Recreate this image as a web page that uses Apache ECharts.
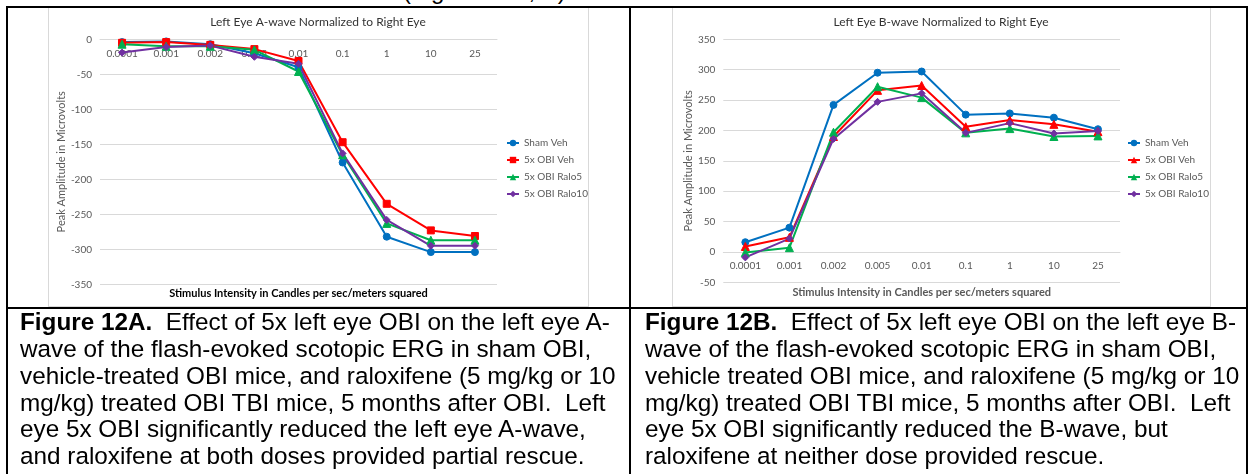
<!DOCTYPE html>
<html>
<head>
<meta charset="utf-8">
<script src="https://cdn.jsdelivr.net/npm/echarts@6/dist/echarts.min.js"></script>
<style>
  html, body { margin:0; padding:0; background:#fff; }
  #page { position:relative; width:1249px; height:474px; overflow:hidden; background:#fff; }
  .box { position:absolute; border:1px solid #d9d9d9; background:#fff; box-sizing:border-box; }
  .ln { position:absolute; background:#000; }
  #chart { position:absolute; left:0; top:0; width:1249px; height:474px; }
  .cap { position:absolute; font-family:"Liberation Sans", Arial, sans-serif; font-size:24.3px; line-height:26.8px; color:#000; white-space:nowrap; }
  .cut { position:absolute; font-family:"Liberation Sans", Arial, sans-serif; font-size:24px; line-height:24px; white-space:nowrap; top:-21.5px; }
</style>
</head>
<body>
<div id="page">
  <div class="cut" style="left:403px;">(Figure 12A, B)</div>
  <div class="box" style="left:48px; top:7px; width:541px; height:300px;"></div>
  <div class="box" style="left:672px; top:7px; width:539px; height:300px;"></div>
  <div id="chart"></div>
  <div class="ln" style="left:6px; top:6px; width:1242px; height:2px;"></div>
  <div class="ln" style="left:6px; top:6px; width:2px; height:470px;"></div>
  <div class="ln" style="left:629px; top:6px; width:2px; height:470px;"></div>
  <div class="ln" style="left:1246px; top:6px; width:2px; height:470px;"></div>
  <div class="ln" style="left:6px; top:307px; width:1242px; height:2px;"></div>
  <div class="cap" style="left:20px; top:309.3px;"><b>Figure 12A.</b>&nbsp; Effect of 5x left eye OBI on the left eye A-<br>wave of the flash-evoked scotopic ERG in sham OBI,<br>vehicle-treated OBI mice, and raloxifene (5 mg/kg or 10<br>mg/kg) treated OBI TBI mice, 5 months after OBI.&nbsp; Left<br>eye 5x OBI significantly reduced the left eye A-wave,<br>and raloxifene at both doses provided partial rescue.</div>
  <div class="cap" style="left:645px; top:309.3px;"><b>Figure 12B.</b>&nbsp; Effect of 5x left eye OBI on the left eye B-<br>wave of the flash-evoked scotopic ERG in sham OBI,<br>vehicle treated OBI mice, and raloxifene (5 mg/kg or 10<br>mg/kg) treated OBI TBI mice, 5 months after OBI.&nbsp; Left<br>eye 5x OBI significantly reduced the B-wave, but<br>raloxifene at neither dose provided rescue.</div>
</div>
<script>
// ---- data ----
const categories = ['0.0001','0.001','0.002','0.005','0.01','0.1','1','10','25'];
const seriesNames = ['Sham Veh','5x OBI Veh','5x OBI Ralo5','5x OBI Ralo10'];
// Chart A: Left Eye A-wave
const aShamVeh  = [-4, -3, -7, -20, -40, -176, -282, -304, -304];
const aObiVeh   = [-5, -4, -8, -14, -31, -147, -235, -273, -281];
const aObiRalo5 = [-7, -10, -10, -15, -46, -165, -263, -287, -287];
const aObiRalo10= [-19, -11, -9, -25, -35, -163, -258, -295, -295];
const aYMin = -350, aYMax = 0;
// Chart B: Left Eye B-wave
const bShamVeh  = [16, 40, 242, 295, 297, 226, 228, 221, 202];
const bObiVeh   = [9, 24, 190, 266, 274, 206, 217, 210, 198];
const bObiRalo5 = [-1, 7, 197, 272, 254, 196, 203, 190, 191];
const bObiRalo10= [-9, 22, 186, 247, 261, 196, 212, 195, 199];
const bYMin = -50, bYMax = 350;
const titleA = 'Left Eye A-wave Normalized to Right Eye';
const titleB = 'Left Eye B-wave Normalized to Right Eye';
const xTitle = 'Stimulus Intensity in Candles per sec/meters squared';
const yTitle = 'Peak Amplitude in Microvolts';

// ---- styles ----
const FONT = 'Lato, "Open Sans", sans-serif';
const colors = ['#0070C0', '#FF0000', '#00B050', '#7030A0'];
const symA = ['circle', 'rect', 'triangle', 'diamond'];
const symB = ['circle', 'triangle', 'triangle', 'diamond'];
const sizeA = [7, 7, 8, 7];
const sizeB = [7, 8, 8, 7];
const gridA = { left: 100, top: 39.3, width: 397, height: 245 };
const gridB = { left: 723.3, top: 39.3, width: 396.7, height: 243 };

// x axis drawn where value 0 sits on the y axis (Excel "crosses at 0")
function xAxis(gi, grid, ymin, ymax) {
  const off = -grid.height * (0 - ymin) / (ymax - ymin);
  return {
    type: 'category', gridIndex: gi, data: categories, boundaryGap: true,
    position: 'bottom', offset: off,
    axisLine: { show: true, onZero: false, lineStyle: { color: '#d9d9d9', width: 1 } },
    axisTick: { show: false },
    axisLabel: { color: '#595959', fontSize: 10, fontFamily: FONT, margin: 9 },
    splitLine: { show: false }
  };
}
function yAxis(gi, min, max) {
  return {
    type: 'value', gridIndex: gi, min: min, max: max, interval: 50,
    axisLine: { show: false }, axisTick: { show: false },
    axisLabel: { color: '#595959', fontSize: 10, fontFamily: FONT, margin: 8 },
    splitLine: { lineStyle: { color: '#d9d9d9', width: 1 } },
    name: yTitle, nameLocation: 'middle', nameRotate: 90, nameGap: 28,
    nameTextStyle: { color: '#595959', fontSize: 11, fontFamily: FONT }
  };
}
function mkSeries(gi, datas, syms, sizes, suffix) {
  return datas.map((d, i) => ({
    name: seriesNames[i] + suffix, type: 'line', xAxisIndex: gi, yAxisIndex: gi, data: d,
    symbol: syms[i], symbolSize: sizes[i], showSymbol: true,
    lineStyle: { color: colors[i], width: 2 },
    itemStyle: { color: colors[i], borderColor: colors[i] },
    emphasis: { disabled: true }, animation: false
  }));
}
function legend(left, suffix) {
  return {
    orient: 'vertical', left: left, top: 133, itemWidth: 12, itemHeight: 8, itemGap: 7,
    data: seriesNames.map(n => n + suffix),
    formatter: n => n.trim(),
    textStyle: { color: '#595959', fontSize: 10, fontFamily: FONT, lineHeight: 10 },
    selectedMode: false
  };
}

const chart = echarts.init(document.getElementById('chart'), null, { renderer: 'canvas' });
const seriesA = mkSeries(0, [aShamVeh, aObiVeh, aObiRalo5, aObiRalo10], symA, sizeA, '');
const seriesB = mkSeries(1, [bShamVeh, bObiVeh, bObiRalo5, bObiRalo10], symB, sizeB, ' ');

const option = {
  backgroundColor: 'transparent',
  animation: false,
  grid: [gridA, gridB],
  xAxis: [xAxis(0, gridA, aYMin, aYMax), xAxis(1, gridB, bYMin, bYMax)],
  yAxis: [yAxis(0, aYMin, aYMax), yAxis(1, bYMin, bYMax)],
  legend: [legend(501, ''), legend(1122, ' ')],
  graphic: [
    { type: 'text', x: 318, y: 22, style: { text: titleA, fill: '#333', font: '12px ' + FONT, textAlign: 'center', textVerticalAlign: 'middle' } },
    { type: 'text', x: 941, y: 22, style: { text: titleB, fill: '#333', font: '12px ' + FONT, textAlign: 'center', textVerticalAlign: 'middle' } },
    { type: 'text', x: 298.5, y: 293, style: { text: xTitle, fill: '#000', font: 'bold 11px ' + FONT, textAlign: 'center', textVerticalAlign: 'middle' } },
    { type: 'text', x: 921.7, y: 292, style: { text: xTitle, fill: '#595959', font: 'bold 11px ' + FONT, textAlign: 'center', textVerticalAlign: 'middle' } }
  ],
  series: seriesA.concat(seriesB)
};
chart.setOption(option);
</script>
</body>
</html>
